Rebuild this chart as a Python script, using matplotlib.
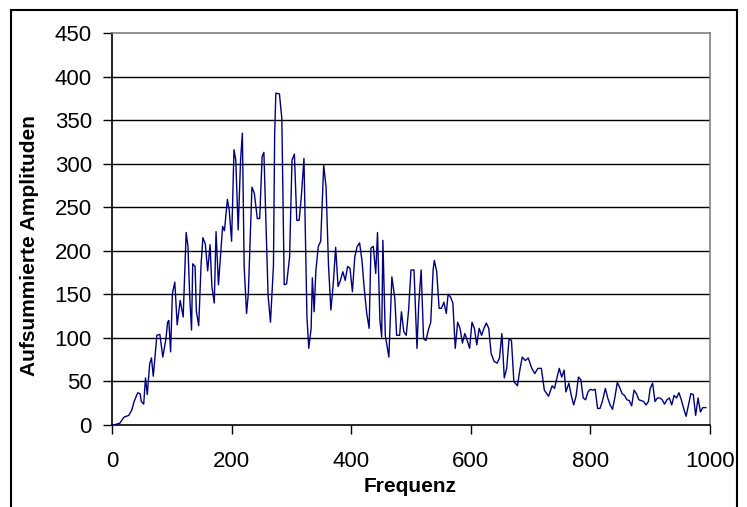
import matplotlib
matplotlib.use("Agg")
import matplotlib.pyplot as plt
from matplotlib.patches import Rectangle

plt.rcParams['font.family'] = ['Liberation Sans', 'DejaVu Sans']

freq = [2,8,13,20,28,33,37,43,47,49,
        53,56,59,63,66,69,71,75,80,85,
        90,93,95,98,101,105,109,114,119,124,
        127,130,133,135,139,141,145,149,152,156,
        160,164,167,171,174,178,182,185,188,193,
        196,200,204,207,211,215,218,221,225,228,
        234,238,243,247,251,254,257,261,265,270,
        272,274,280,284,288,292,297,301,305,309,
        313,317,321,326,329,333,335,338,341,345,
        349,354,358,362,366,370,374,378,382,386,
        390,394,398,402,406,410,414,418,422,426,
        430,433,437,441,444,448,451,453,457,463,
        468,473,476,481,484,488,492,496,500,505,
        510,513,517,521,525,529,533,537,539,543,
        547,551,555,559,562,566,570,574,578,582,
        586,590,594,598,602,606,610,614,618,622,
        626,630,634,639,644,648,652,656,660,664,
        668,672,678,682,686,691,696,702,707,712,
        718,723,730,736,740,744,748,752,756,759,
        764,768,772,776,780,784,788,792,796,800,
        804,808,812,816,820,825,829,833,837,841,
        845,849,853,857,861,865,869,873,877,881,
        885,889,893,897,900,904,908,912,916,920,
        924,928,932,936,940,944,948,952,956,960,
        964,968,972,976,980,984,988,993]

amplitude = [0,1,2,9,11,17,27,37,36,27,
             24,54,35,70,77,56,71,103,104,78,
             98,118,120,84,151,164,115,143,124,221,
             205,147,109,185,182,131,114,185,215,208,
             177,207,159,140,222,161,199,228,223,259,
             247,211,316,304,224,304,335,182,128,151,
             273,266,237,237,308,313,243,149,118,183,
             334,381,380,352,161,162,193,304,311,235,
             235,266,306,124,88,111,169,130,178,205,
             211,298,273,184,132,162,204,159,166,176,
             166,182,180,153,193,205,209,189,155,128,
             111,203,205,174,221,120,101,212,103,78,
             170,145,103,103,130,107,103,132,178,178,
             88,140,178,99,97,109,118,178,189,176,
             134,134,141,128,150,147,140,88,118,111,
             94,105,97,88,118,111,92,111,103,111,
             117,111,82,73,71,77,105,54,65,99,
             97,50,45,63,78,74,77,65,59,65,
             65,40,33,45,42,54,65,55,63,38,
             48,34,23,33,55,52,31,29,38,41,
             40,41,19,19,27,42,31,23,18,32,
             49,43,36,34,29,28,22,40,36,29,
             28,27,23,27,42,48,27,31,31,29,
             24,29,31,23,34,31,37,29,19,10,
             23,36,35,11,31,15,20,20]

x_ticks = [0, 200, 400, 600, 800, 1000]
y_ticks = [0, 50, 100, 150, 200, 250, 300, 350, 400, 450]
x_label = "Frequenz"
y_label = "Aufsummierte Amplituden"

W, H = 747, 507
fig = plt.figure(figsize=(W / 100, H / 100), dpi=100)
fig.patch.set_facecolor('white')

# outer chart border
fig.patches.append(Rectangle((11 / W, -0.05), (737 - 11) / W, 1.05 - 10 / H,
                             transform=fig.transFigure, fill=False,
                             edgecolor='black', linewidth=1.5))

ax = fig.add_axes([112 / W, 1 - 425 / H, (710 - 112) / W, (425 - 33) / H])
ax.set_xlim(0, 1000)
ax.set_ylim(0, 450)

for yv in y_ticks[1:-1]:
    ax.axhline(yv, color='black', linewidth=1.0, zorder=1)

ax.plot(freq, amplitude, color='#000080', linewidth=1.0, zorder=3)

ax.spines['left'].set_color('black')
ax.spines['bottom'].set_color('black')
ax.spines['top'].set_color('#808080')
ax.spines['right'].set_color('#808080')
for s in ax.spines.values():
    s.set_linewidth(1.2)

ax.set_xticks(x_ticks)
ax.set_yticks(y_ticks)
ax.tick_params(axis='both', direction='out', length=6.5, width=1.0,
               labelsize=16, color='black')
ax.tick_params(axis='y', pad=8)
ax.tick_params(axis='x', pad=12)

ax.set_xlabel(x_label, fontsize=15, fontweight='bold')
ax.set_ylabel(y_label, fontsize=15, fontweight='bold')
ax.xaxis.set_label_coords((410 - 112) / 598, -(486 - 425) / 392)
ax.yaxis.set_label_coords((30 - 112) / 598, (425 - 246) / 392)
ax.xaxis.label.set_va('center')
ax.yaxis.label.set_va('center')

fig.savefig("out.png", dpi=100)
